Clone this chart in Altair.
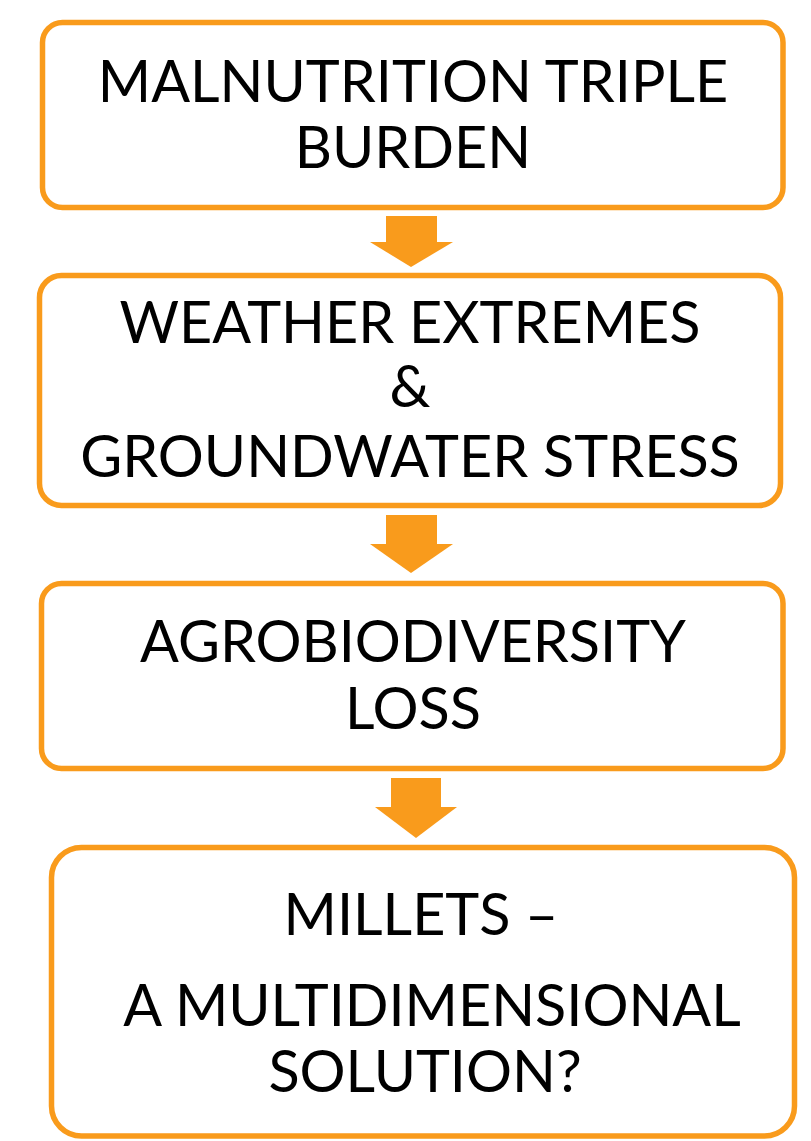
import altair as alt
import pandas as pd

# ---- data (page pixel coordinates) ----
box_x1 = [42.5, 39.5, 41.5, 51.5]
box_x2 = [783.0, 780.5, 783.0, 794.5]
box_y1 = [22.5, 275.5, 583.5, 847.5]
box_y2 = [207.5, 505.5, 768.5, 1136.0]
box_radius = [20, 22, 20, 30]

arrow_shaft_x1 = [386, 386, 391]
arrow_shaft_x2 = [437, 437, 441]
arrow_shaft_top = [216, 515, 778]
arrow_head_top = [242, 544, 807]
arrow_head_left = [370, 370, 375]
arrow_head_right = [453, 453, 457]
arrow_tip_x = [411, 411, 416]
arrow_tip_y = [267, 573, 838]

text_lines = ["MALNUTRITION TRIPLE", "BURDEN",
              "WEATHER EXTREMES", "&", "GROUNDWATER STRESS",
              "AGROBIODIVERSITY", "LOSS",
              "MILLETS \u2013", "A MULTIDIMENSIONAL", "SOLUTION?"]
text_x = [413, 413, 410, 410, 410, 413, 413, 421, 432, 425]
text_y = [102, 168, 343, 407, 477, 662, 729, 935, 1026, 1092]

ORANGE = "#F99B1C"
FONT = "Lato"
FONT_SIZE = 57.5

W, H = 795, 1133
xs = alt.Scale(domain=[8, 8 + W], nice=False, zero=False)
ys = alt.Scale(domain=[8, 8 + H], nice=False, zero=False, reverse=True)

boxes = pd.DataFrame({"x1": box_x1, "x2": box_x2, "y1": box_y1, "y2": box_y2,
                      "r": box_radius, "id": range(4)})

box_layers = []
for i in range(4):
    box_layers.append(
        alt.Chart(boxes[boxes.id == i]).mark_rect(
            fill="white", stroke=ORANGE, strokeWidth=5.5,
            cornerRadius=box_radius[i]
        ).encode(
            x=alt.X("x1:Q", scale=xs, axis=None),
            x2="x2:Q",
            y=alt.Y("y1:Q", scale=ys, axis=None),
            y2="y2:Q",
        )
    )

shafts = pd.DataFrame({"x1": arrow_shaft_x1, "x2": arrow_shaft_x2,
                       "y1": arrow_shaft_top, "y2": arrow_head_top})
shaft_layer = alt.Chart(shafts).mark_rect(fill=ORANGE).encode(
    x=alt.X("x1:Q", scale=xs, axis=None), x2="x2:Q",
    y=alt.Y("y1:Q", scale=ys, axis=None), y2="y2:Q",
)

head_rows = []
for i in range(3):
    head_rows.append({"a": i, "x": arrow_head_left[i], "y": arrow_head_top[i], "y2": arrow_head_top[i]})
    head_rows.append({"a": i, "x": arrow_tip_x[i], "y": arrow_head_top[i], "y2": arrow_tip_y[i]})
    head_rows.append({"a": i, "x": arrow_head_right[i], "y": arrow_head_top[i], "y2": arrow_head_top[i]})
heads = pd.DataFrame(head_rows)
head_layer = alt.Chart(heads).mark_area(color=ORANGE, opacity=1).encode(
    x=alt.X("x:Q", scale=xs, axis=None),
    y=alt.Y("y:Q", scale=ys, axis=None),
    y2="y2:Q",
    detail="a:N",
)

texts = pd.DataFrame({"t": text_lines, "x": text_x, "y": text_y})
text_layer = alt.Chart(texts).mark_text(
    font=FONT, fontSize=FONT_SIZE, color="black", align="center", baseline="alphabetic"
).encode(
    x=alt.X("x:Q", scale=xs, axis=None),
    y=alt.Y("y:Q", scale=ys, axis=None),
    text="t:N",
)

chart = alt.layer(*box_layers, shaft_layer, head_layer, text_layer).properties(
    width=W, height=H, padding=0, autosize=alt.AutoSizeParams(type="none")
).configure_view(strokeWidth=0)

chart.save("out.html", embed_options={"renderer": "svg", "actions": False})
